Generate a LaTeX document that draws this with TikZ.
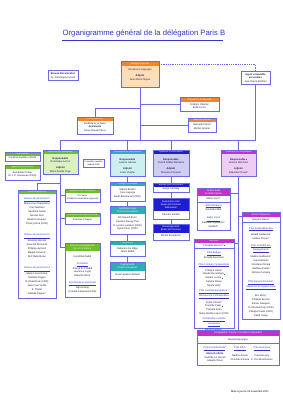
\documentclass[tikz,border=0pt]{standalone}
\usepackage{fontspec}
\setmainfont{Liberation Sans}
\usetikzlibrary{calc,fit}
\definecolor{lineblue}{HTML}{6A6AE6}
\definecolor{titleblue}{HTML}{3434CC}
\definecolor{orangeH}{HTML}{F2852A}
\definecolor{orangeF}{HTML}{FDDDBA}
\definecolor{greenH}{HTML}{6CBE2A}
\definecolor{greenF}{HTML}{DCF1C0}
\definecolor{tealH}{HTML}{2BAEB4}
\definecolor{tealF}{HTML}{CDEFF0}
\definecolor{navyH}{HTML}{1E1ED0}
\definecolor{navyF}{HTML}{CDCDF6}
\definecolor{magH}{HTML}{C530C8}
\definecolor{magF}{HTML}{EDCEF2}
\definecolor{textc}{HTML}{1C1C3C}
\newcommand\bodyf{\fontsize{2.5}{3.8}\selectfont}
\newcommand\hdf{\fontsize{2.4}{3.2}\selectfont}
\newcommand\rs{\textcolor{red}{*}}
\newcommand\gs{\,\textcolor{green!70!black}{\rule{0.9pt}{0.9pt}}}
\newcommand\uh[1]{\textcolor{titleblue}{\underline{#1}}}
\newcommand\obox[7]{%
  \path #2 coordinate (#1-nw) #3 coordinate (#1-se);
  \node[fit=(#1-nw)(#1-se), inner sep=0pt, outer sep=0pt, fill=#6] (#1) {};
  \fill[#5] (#1.north west) rectangle ($(#1.north east)+(0,#4)$);
  \node[hdtext] (#1-h) at ($(#1.north)+(0,#4/2)$) {#7};
  \draw[boxline] (#1.north west) rectangle (#1.south east);
}
\begin{document}
\begin{tikzpicture}[x=1pt,y=-1pt,
  boxline/.style={draw=lineblue, line width=0.75pt},
  conn/.style={draw=lineblue, line width=0.9pt},
  hdtext/.style={text=white, font=\hdf, align=center, inner sep=0pt},
  bodytext/.style={font=\bodyf, align=center, inner sep=0pt, text=textc, anchor=north}]
\useasboundingbox (0,0) rectangle (283,400);
\fill[white] (0,0) rectangle (283,400);

% title
\node[font=\fontsize{7.7}{9}\selectfont, text=titleblue, inner sep=0pt] (title) at (144,33) {Organigramme général de la délégation Paris B};
\draw[titleblue, line width=0.5pt] (62,40) -- (223,40);

\coordinate (sL) at (60.5,140);
\coordinate (sR) at (255.5,140);
\coordinate (cj) at (140,108);

% top level
\obox{bur}{(48,70)}{(78,80)}{0}{white}{white}{}
\node[bodytext] (t-bur) at (63,72.5) {\textbf{Bureau Décentralisé}\\Dr. Dominique Fassot};

\obox{deleg}{(121,61)}{(159,87)}{5}{orangeH}{orangeF}{Délégué régional}
\node[bodytext] (t-deleg) at (140,68) {Christine D'Argouges\\[3pt]\textbf{Adjoint}\\Jean-Pierre Noyes};

\obox{agent}{(241,71)}{(270,84)}{0}{white}{white}{}
\node[bodytext] (t-agent) at (255.5,73) {\textbf{Agent comptable}\\\textbf{secondaire}\\Jean-Pierre Barthes};

\obox{prev}{(180,97)}{(219,111)}{4.5}{orangeH}{white}{Prévention et Sécurité}
\node[bodytext] (t-prev) at (199.5,103) {Frédéric Charlier\\Bella Le Go};

\obox{serv}{(188,118)}{(216,132)}{4}{orangeH}{white}{Service Intérieur}
\node[bodytext] (t-serv) at (202,123.5) {Marcelle Prévot\\Michel Grenier};

\obox{comm}{(77,117)}{(113,134)}{4}{orangeH}{white}{Communication}
\node[bodytext] (t-comm) at (95,122) {Frédérique Le Meur\\\textbf{Assistante}\\Anne-Claude Pleux};

% second level
\obox{secl}{(5,152)}{(40,161)}{3.5}{greenH}{white}{Secrétariat}
\node[bodytext] (t-secl) at (22.5,156.5) {Carolina Agostino-Garde};

\obox{prevag}{(5,165)}{(40,180)}{4}{greenH}{white}{Agents de prévention}
\node[bodytext] (t-prevag) at (22.5,171) {Annabelle Cortier\\Dr J.-P. Rousseau (CDD)};

\obox{rh}{(43,150)}{(78,174)}{4}{greenH}{greenF}{Ressources Humaines}
\node[bodytext] (t-rh) at (60.5,157) {\textbf{Responsable}\\Dominique Le Fur\\[2pt]\textbf{Adjoint}\\Marie-Noëlle Poge};

\obox{corr}{(83,159)}{(104,167)}{0}{white}{white}{}
\node[bodytext, font=\fontsize{2.1}{3}\selectfont] (t-corr) at (93.5,160.5) {Conseillère mobilité\\Isabelle Rétif};

\obox{part}{(110,150)}{(145,176)}{4}{tealH}{tealF}{Partenariat et Valorisation}
\node[bodytext] (t-part) at (127.5,158) {\textbf{Responsable}\\Ludovic Hamon\\[2pt]\textbf{Adjoint}\\Louis Verghe};

\obox{si}{(153,150)}{(189,176)}{4}{navyH}{navyF}{Système d'Information}
\node[bodytext] (t-si) at (171,158) {\textbf{Responsable}\\Pascal Noblet-Dufresne\\[2pt]\textbf{Adjoint}\\Florence Prospert};

\obox{fin}{(221,150)}{(256,176)}{4}{magH}{magF}{Finances et Comptabilité}
\node[bodytext] (t-fin) at (238.5,158) {\textbf{Responsable}\gs\\Antoine Marchesi\\[2pt]\textbf{Adjoint}\\Sébastien Duval\rs};

% RH subtree
\obox{gest}{(18,190)}{(56,298)}{4}{greenH}{white}{Pôle Gestion RH}
\node[bodytext, font=\fontsize{2.5}{4.1}\selectfont] (t-gest) at (37,197) {\uh{Bureau du personnel 1}\\Marie-Line Charpentier\\Yves Martinez\\Sandrine Assali\\Nicolas Ruiz\\Béatrice Hoarau\rs\\Thierry Aimé (CDD)\\[7pt]\uh{Bureau du personnel 2}\\Séverine Bonnet\\Anne De Bernardo\\Philippe Aymard\\Magali Lamarre\rs\\M-P Belin-Boiko\\[7pt]\uh{Bureau du personnel 3}\\Marie-Laure Noiret\\Nathalie Ragon\\N. Dhambouk (CDD)\\Jean Paul Truble\\E. Thiriet\\Isabelle Pigeon\rs};

\obox{med}{(65,189)}{(100,202)}{4}{greenH}{white}{Médecins de Prévention}
\node[bodytext, font=\fontsize{2.2}{3.2}\selectfont] (t-med) at (82.5,194.5) {Dr Fassot\\(médecin coordinateur régional)};

\obox{soc}{(65,213)}{(100,224)}{4}{greenH}{white}{Assistante de Service Social}
\node[bodytext] (t-soc) at (82.5,218.5) {Francine Chapon};

\obox{acc}{(65,243)}{(100,297)}{8}{greenH}{white}{Pôle Accompagnement\\RH et Formation}
\node[bodytext] (t-acc) at (82.5,255.5) {Kyrall Benhaddi\\[3pt]\uh{Formation}\\Franck B. Chedid\\Laurence Loyer\\Blanche René\\[3pt]\uh{Secrétariat du personnel}\\Nga Hoang\\N. Bakk Caressed (CDD)};

% Partenariat subtree
\obox{charg}{(110,182)}{(145,201)}{4}{tealH}{white}{Chargés d'Affaires}
\node[bodytext] (t-charg) at (127.5,188) {Sabine Boukhi\\Yves Lagorge\\Badri Benmarouf (CDD)};

\obox{just}{(110,206)}{(145,234)}{8}{tealH}{white}{Justification des\\Contrats Européens}
\node[bodytext] (t-just) at (127.5,216.5) {Emmanuel Bosri\\Caroline Dupuy-Prat\\N. Leclerc-Lalanne (CDD)\\Sylvie Pilon (CDD)};

\obox{sec2}{(110,241)}{(145,256)}{4}{tealH}{white}{Secrétariat}
\node[bodytext] (t-sec2) at (127.5,247) {Fabienne Do Rêgo\\Julien Bédel};

\obox{inge}{(110,262)}{(145,279)}{9}{tealH}{white}{Ingénierie de\\Projets Européens}
\node[bodytext] (t-inge) at (127.5,273) {Anna Lagasse-Sklavol};

% SI subtree
\obox{bu}{(153,183)}{(189,192)}{4}{navyH}{white}{Bureau des utilisateurs}
\node[bodytext] (t-bu) at (171,187) {Serge Lamidey};

\obox{expl}{(153,198)}{(189,219)}{13}{navyH}{white}{Exploitation Unix\\Bases de Données\\Webmaster}
\node[bodytext] (t-expl) at (171,213.5) {Pascal Lamielle};

\obox{dev}{(153,224)}{(189,240)}{9}{navyH}{white}{Développement\\Bases de Données}
\node[bodytext] (t-dev) at (171,234.5) {Michel Bourtancin};

% Finances subtree
\obox{audit}{(197,188)}{(230,230)}{8}{magH}{white}{Cellule Audit\\Contrôle interne}
\node[bodytext] (t-audit-r) at (213.5,197.5) {Marie Sorin\rs};
\draw[boxline] (audit.west |- 0,202) -- (audit.east |- 0,202);
\node[bodytext, font=\fontsize{2.5}{4.4}\selectfont] (t-audit) at (213.5,204) {\uh{Administration}\\Sonia Bouffart\\[4pt]\uh{Bailly Cecili}\\Kathleen Agostinho\rs\\Guilbert\rs};

\obox{achat}{(242,212)}{(280,319)}{5}{magH}{white}{Achat / Dépenses}
\node[bodytext] (t-achat-r) at (261,218) {Marjorie Daval\rs};
\draw[boxline] (achat.west |- 0,222) -- (achat.east |- 0,222);
\node[bodytext, font=\fontsize{2.5}{4}\selectfont] (t-achat) at (261,227) {\uh{Pôle Achats/Marchés}\\[2pt]Gérald Guillaume\rs\\Hélène Rouze\rs\\[3pt]\uh{Pôle Contrôle des}\\\uh{Engagements}\\[2pt]Nadine Guillaume\rs\\Hamid Baraki\\Ghislaine Omara\\Mathieu Pradel\\Jérôme Fontaine\\[5pt]\uh{Pôle Service Facturier,}\\\uh{dépenses et support outils}\\[4pt]Eric Berry\rs\\Philippe Bocher\\Karine Gueguen\\N. Mourad Diop (CDD)\\Philippe Daval (CDD)\\David Lange};

\obox{rec}{(194,239)}{(234,328)}{4}{magH}{white}{Recettes}
\node[bodytext] (t-rec-r) at (214,244) {Christelle Bourret\rs\gs};
\draw[boxline] (rec.west |- 0,248) -- (rec.east |- 0,248);
\node[bodytext] (t-rec) at (214,251) {\uh{Pôle Budget}\\Armelle Guermeur\\[3pt]\uh{Pôle Contrats / Subventions}\\[1pt]Philippe Hervé\rs\\Claude Decombeix\gs\\Sophie Le Roi\gs\\Sandra Alleau\\Nicole Vidry\\[1pt]\uh{Pôle Contrats Européens /}\\\uh{Ressources Contractuelles}\\[2pt]Sylvie Ponsot\rs\\Danielle Caler\gs\\Pascale Piton\\Marie-Noëlle Lopez (CDD)\\[1pt]\uh{Certification contrats}\\\uh{européens}\\[1pt]Gérard Lameur\gs};

\obox{compta}{(197,330)}{(279,365)}{6}{magH}{white}{Comptabilité / Caisse / Contrôles Comptables}
\node[bodytext] (t-compta-r) at (238,338) {Nicole Dauvergne};
\draw[boxline] (compta.west |- 0,343) -- (compta.east |- 0,343);
\node[bodytext] (t-c1) at (215,346.5) {\uh{Pôle Contrôle/Audit}\rs\\[1pt]\textbf{Marie De Brito}\\Danielle La Scandi\\Isabelle Pleux};
\node[bodytext] (t-c2) at (240,346.5) {\uh{Pôle RGC}\\[3pt]Nadine Amato\\Christian Pereira};
\node[bodytext] (t-c3) at (262,346.5) {\uh{Pôle Exécution}\\[3pt]Patricia Larry\\C. Da Silva Ramos};

% connectors
\draw[conn] (sL) -- (sR);
\draw[conn] (deleg.south) -- (deleg.south |- sL);
\draw[conn] (agent.south) -- (sR);
\draw[conn, dash pattern=on 1pt off 0.8pt] ($(deleg.north east)+(0,3)$) -| (agent.north);
\draw[conn] (prev.west) -- (prev.west -| deleg.south);
\draw[conn] (serv.west) -- (serv.west -| deleg.south);
\draw[conn] (comm.north) |- (cj);
\draw[conn] (rh.north) -- (rh.north |- sL);
\draw[conn] (part.north) -- (part.north |- sL);
\draw[conn] (si.north) -- (si.north |- sL);
\draw[conn] (fin.north) -- (fin.north |- sL);

\draw[conn] (rh.south) |- ($(acc.north west)+(0,4)$);
\draw[conn] (rh.south |- med.west) -- (med.west);
\draw[conn] (rh.south |- soc.west) -- (soc.west);
\draw[conn] ($(rh.south)+(0,9)$) -| (gest.north);

\draw[conn] (part.south) -- (charg.north);
\draw[conn] (charg.south) -- (just.north);
\draw[conn] (just.south) -- (sec2.north);
\draw[conn] (sec2.south) -- (inge.north);

\draw[conn] (si.south) -- (bu.north);
\draw[conn] (bu.south) -- (expl.north);
\draw[conn] (expl.south) -- (dev.north);

\draw[conn] (fin.south) -- (fin.south |- compta.north);
\draw[conn] ($(audit.north east)+(0,5)$) -- ($(audit.north east -| fin.south)+(0,5)$);
\draw[conn] ($(achat.north west)+(0,4)$) -- ($(achat.north west -| fin.south)+(0,4)$);
\draw[conn] ($(rec.north east)+(0,4)$) -- ($(rec.north east -| fin.south)+(0,4)$);

% date
\node[font=\fontsize{2.6}{3}\selectfont, text=black, inner sep=0pt] (date) at (250,392) {Mise à jour le 03 novembre 2011};
\end{tikzpicture}
\end{document}
